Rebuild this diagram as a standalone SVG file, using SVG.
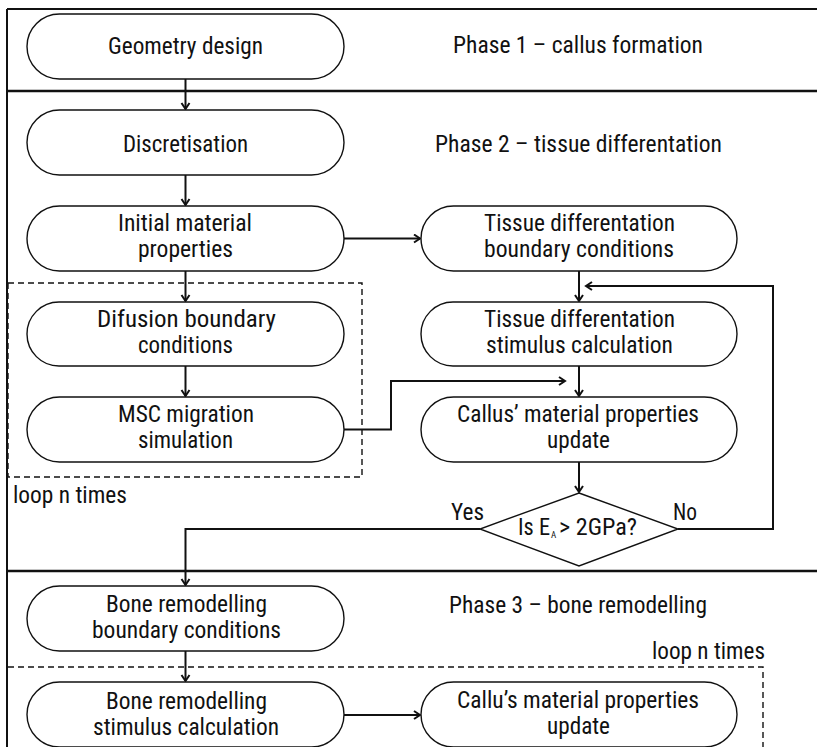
<svg xmlns="http://www.w3.org/2000/svg" width="817" height="747" viewBox="0 0 817 747">
<style>
text{font-family:"Roboto Condensed","Liberation Sans Narrow",Roboto,"Liberation Sans",sans-serif;font-size:23px;fill:#111;}
.node{fill:#fff;stroke:#111;stroke-width:1.4;}
.frame{fill:none;stroke:#111;stroke-width:2;}
.dash{fill:none;stroke:#111;stroke-width:1.4;stroke-dasharray:6 4;}
.conn{fill:none;stroke:#111;stroke-width:2;}
</style>
<defs>
<marker id="arr" markerUnits="userSpaceOnUse" markerWidth="10" markerHeight="12" refX="7" refY="5" orient="auto">
<path d="M1,1 L7,5 L1,9" fill="none" stroke="#111" stroke-width="2"/>
</marker>
</defs>
<rect width="817" height="747" fill="#fff"/>
<g id="frame">
<line class="frame" x1="7" y1="9" x2="817" y2="9"/>
<line class="frame" x1="7" y1="9" x2="7" y2="747"/>
<line class="frame" x1="7" y1="91" x2="817" y2="91" style="stroke-width:2.5"/>
<line class="frame" x1="7" y1="571" x2="817" y2="571" style="stroke-width:2.5"/>
</g>
<g id="loop1">
<rect class="dash" x="8" y="283" width="354" height="194"/>
<text x="13" y="503" textLength="114" lengthAdjust="spacingAndGlyphs">loop n times</text>
</g>
<g id="loop2">
<path class="dash" d="M8,667 H763 V747"/>
<text x="652" y="659" textLength="113" lengthAdjust="spacingAndGlyphs">loop n times</text>
</g>
<g id="phases">
<text x="453" y="53" textLength="250" lengthAdjust="spacingAndGlyphs">Phase 1 – callus formation</text>
<text x="435" y="152" textLength="287" lengthAdjust="spacingAndGlyphs">Phase 2 – tissue differentation</text>
<text x="449" y="613" textLength="258" lengthAdjust="spacingAndGlyphs">Phase 3 – bone remodelling</text>
</g>
<g id="connectors">
<line class="conn" x1="185.5" y1="79" x2="185.5" y2="109" marker-end="url(#arr)"/>
<line class="conn" x1="185.5" y1="175" x2="185.5" y2="205" marker-end="url(#arr)"/>
<line class="conn" x1="185.5" y1="271" x2="185.5" y2="301" marker-end="url(#arr)"/>
<line class="conn" x1="185.5" y1="366" x2="185.5" y2="396" marker-end="url(#arr)"/>
<line class="conn" x1="344" y1="238.5" x2="420" y2="238.5" marker-end="url(#arr)"/>
<line class="conn" x1="579" y1="271" x2="579" y2="301" marker-end="url(#arr)"/>
<line class="conn" x1="579" y1="366" x2="579" y2="396" marker-end="url(#arr)"/>
<line class="conn" x1="579" y1="462" x2="579" y2="492" marker-end="url(#arr)"/>
<path class="conn" d="M344,429.5 H391 V381 H565" marker-end="url(#arr)"/>
<path class="conn" d="M678,529 H773 V286 H586" marker-end="url(#arr)"/>
<path class="conn" d="M480,529 H185.5 V585" marker-end="url(#arr)"/>
<line class="conn" x1="185.5" y1="651" x2="185.5" y2="681" marker-end="url(#arr)"/>
<line class="conn" x1="344" y1="715" x2="420" y2="715" marker-end="url(#arr)"/>
<text x="451" y="520" textLength="33" lengthAdjust="spacingAndGlyphs">Yes</text>
<text x="673" y="520" textLength="24" lengthAdjust="spacingAndGlyphs">No</text>
</g>
<g id="geometry">
<rect class="node" x="27" y="14" width="317" height="65" rx="32.5"/>
<text x="108" y="54" textLength="155" lengthAdjust="spacingAndGlyphs">Geometry design</text>
</g>
<g id="discretisation">
<rect class="node" x="27" y="110" width="317" height="65" rx="32.5"/>
<text x="123" y="152" textLength="125" lengthAdjust="spacingAndGlyphs">Discretisation</text>
</g>
<g id="initial">
<rect class="node" x="27" y="206" width="317" height="65" rx="32.5"/>
<text x="118" y="231" textLength="134" lengthAdjust="spacingAndGlyphs">Initial material</text>
<text x="138" y="257" textLength="95" lengthAdjust="spacingAndGlyphs">properties</text>
</g>
<g id="difusion">
<rect class="node" x="27" y="302" width="317" height="64" rx="32"/>
<text x="97" y="327" textLength="179" lengthAdjust="spacingAndGlyphs">Difusion boundary</text>
<text x="138" y="353" textLength="95" lengthAdjust="spacingAndGlyphs">conditions</text>
</g>
<g id="msc">
<rect class="node" x="27" y="397" width="317" height="65" rx="32.5"/>
<text x="118" y="422" textLength="136" lengthAdjust="spacingAndGlyphs">MSC migration</text>
<text x="138" y="448" textLength="95" lengthAdjust="spacingAndGlyphs">simulation</text>
</g>
<g id="td-boundary">
<rect class="node" x="421" y="206" width="316" height="65" rx="32.5"/>
<text x="484" y="231" textLength="191" lengthAdjust="spacingAndGlyphs">Tissue differentation</text>
<text x="484" y="257" textLength="190" lengthAdjust="spacingAndGlyphs">boundary conditions</text>
</g>
<g id="td-stimulus">
<rect class="node" x="421" y="302" width="316" height="64" rx="32"/>
<text x="484" y="327" textLength="191" lengthAdjust="spacingAndGlyphs">Tissue differentation</text>
<text x="486" y="353" textLength="187" lengthAdjust="spacingAndGlyphs">stimulus calculation</text>
</g>
<g id="callus-update">
<rect class="node" x="421" y="397" width="316" height="65" rx="32.5"/>
<text x="457" y="422" textLength="242" lengthAdjust="spacingAndGlyphs">Callus’ material properties</text>
<text x="547" y="448" textLength="63" lengthAdjust="spacingAndGlyphs">update</text>
</g>
<g id="decision">
<polygon class="node" points="579,493 678,529 579,566 480,529"/>
<text x="518" y="535" textLength="32" lengthAdjust="spacingAndGlyphs">Is E</text>
<text x="551" y="538" style="font-size:9px">A</text>
<text x="559" y="535" textLength="78" lengthAdjust="spacingAndGlyphs">&gt; 2GPa?</text>
</g>
<g id="bone-boundary">
<rect class="node" x="27" y="586" width="317" height="65" rx="32.5"/>
<text x="106" y="612" textLength="161" lengthAdjust="spacingAndGlyphs">Bone remodelling</text>
<text x="92" y="638" textLength="189" lengthAdjust="spacingAndGlyphs">boundary conditions</text>
</g>
<g id="bone-stimulus">
<rect class="node" x="27" y="682" width="317" height="65" rx="32.5"/>
<text x="106" y="709" textLength="161" lengthAdjust="spacingAndGlyphs">Bone remodelling</text>
<text x="93" y="735" textLength="186" lengthAdjust="spacingAndGlyphs">stimulus calculation</text>
</g>
<g id="callu-update">
<rect class="node" x="421" y="682" width="316" height="65" rx="32.5"/>
<text x="457" y="708" textLength="242" lengthAdjust="spacingAndGlyphs">Callu’s material properties</text>
<text x="547" y="734" textLength="63" lengthAdjust="spacingAndGlyphs">update</text>
</g>
</svg>
